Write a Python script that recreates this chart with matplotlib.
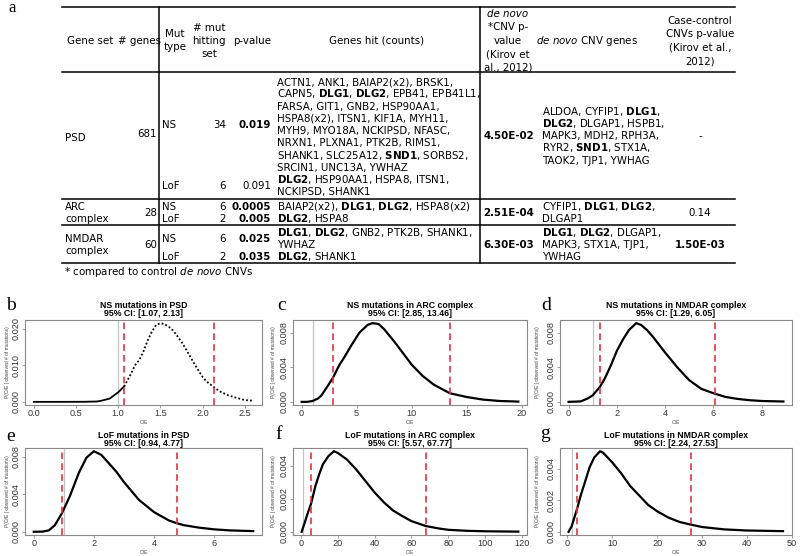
import matplotlib
matplotlib.use("Agg")
import matplotlib.pyplot as plt
from matplotlib.lines import Line2D

plt.rcParams['font.family'] = ['DejaVu Sans']
plt.rcParams['mathtext.fontset'] = 'dejavusans'

# ---------------- table data ----------------
gene_sets = [["PSD"], ["ARC", "complex"], ["NMDAR", "complex"]]
n_genes = ["681", "28", "60"]
mut_types = ["NS", "LoF"]
n_hit = [["34", "6"], ["6", "2"], ["6", "2"]]
p_values = [["0.019", "0.091"], ["0.0005", "0.005"], ["0.025", "0.035"]]
p_bold = [[True, False], [True, True], [True, True]]
genes_hit = [
    [["ACTN1, ANK1, BAIAP2(x2), BRSK1,",
      r"CAPN5, $\mathbf{DLG1}$, $\mathbf{DLG2}$, EPB41, EPB41L1,",
      "FARSA, GIT1, GNB2, HSP90AA1,",
      "HSPA8(x2), ITSN1, KIF1A, MYH11,",
      "MYH9, MYO18A, NCKIPSD, NFASC,",
      "NRXN1, PLXNA1, PTK2B, RIMS1,",
      r"SHANK1, SLC25A12, $\mathbf{SND1}$, SORBS2,",
      "SRCIN1, UNC13A, YWHAZ"],
     [r"$\mathbf{DLG2}$, HSP90AA1, HSPA8, ITSN1,",
      "NCKIPSD, SHANK1"]],
    [[r"BAIAP2(x2), $\mathbf{DLG1}$, $\mathbf{DLG2}$, HSPA8(x2)"],
     [r"$\mathbf{DLG2}$, HSPA8"]],
    [[r"$\mathbf{DLG1}$, $\mathbf{DLG2}$, GNB2, PTK2B, SHANK1,", "YWHAZ"],
     [r"$\mathbf{DLG2}$, SHANK1"]],
]
cnv_p = ["4.50E-02", "2.51E-04", "6.30E-03"]
cnv_genes = [
    [r"ALDOA, CYFIP1, $\mathbf{DLG1}$,",
     r"$\mathbf{DLG2}$, DLGAP1, HSPB1,",
     "MAPK3, MDH2, RPH3A,",
     r"RYR2, $\mathbf{SND1}$, STX1A,",
     "TAOK2, TJP1, YWHAG"],
    [r"CYFIP1, $\mathbf{DLG1}$, $\mathbf{DLG2}$,", "DLGAP1"],
    [r"$\mathbf{DLG1}$, $\mathbf{DLG2}$, DLGAP1,", "MAPK3, STX1A, TJP1,", "YWHAG"],
]
cc_p = ["-", "0.14", "1.50E-03"]
cc_bold = [False, False, True]

# ---------------- density data ----------------
b_x = [0.0, 0.3, 0.6, 0.75, 0.8, 0.9, 1.0, 1.07, 1.15, 1.2, 1.25, 1.3, 1.35, 1.4, 1.45,
       1.5, 1.55, 1.6, 1.65, 1.7, 1.75, 1.8, 1.85, 1.9, 1.95, 2.0, 2.05, 2.13, 2.2, 2.3,
       2.4, 2.5, 2.6]
b_y = [0, 0, 0.00002, 0.0001, 0.0003, 0.0009, 0.0026, 0.0042, 0.0076, 0.0100, 0.0114,
       0.0138, 0.0168, 0.0192, 0.0210, 0.0215, 0.0212, 0.0205, 0.0195, 0.0180, 0.0164,
       0.0145, 0.0125, 0.0105, 0.0086, 0.0068, 0.0055, 0.0041, 0.0029, 0.0018, 0.0011,
       0.0005, 0.0003]
c_x = [0, 0.5, 1.0, 1.5, 1.8, 2.4, 2.85, 3.4, 3.9, 4.5, 5.25, 6.0, 6.45, 7.0, 7.5, 8.4,
       9.0, 10.0, 11.0, 12.0, 13.46, 15.0, 16.5, 18.0, 19.7]
c_y = [0, 0, 0.0001, 0.0004, 0.00075, 0.0019, 0.0028, 0.0042, 0.0052, 0.0065, 0.0080,
       0.0089, 0.0091, 0.0090, 0.0084, 0.0070, 0.0060, 0.0043, 0.0030, 0.0020, 0.0010,
       0.00056, 0.00026, 0.0001, 0.00003]
d_x = [0, 0.5, 0.8, 1.0, 1.29, 1.5, 1.75, 2.0, 2.25, 2.5, 2.8, 3.0, 3.25, 3.5, 4.0, 4.5,
       5.0, 5.5, 6.05, 6.5, 7.0, 7.5, 8.0, 8.9]
d_y = [0, 0.00005, 0.0004, 0.00076, 0.0017, 0.0027, 0.0042, 0.0059, 0.0072, 0.0083,
       0.0091, 0.0089, 0.0083, 0.0075, 0.0057, 0.0040, 0.0025, 0.0015, 0.00095, 0.00057,
       0.00034, 0.00019, 0.0001, 0.00004]
e_x = [0, 0.3, 0.5, 0.7, 0.94, 1.2, 1.5, 1.75, 2.0, 2.25, 2.5, 2.75, 3.0, 3.5, 4.0, 4.5,
       4.77, 5.0, 5.5, 6.0, 6.5, 7.3]
e_y = [0, 0.00002, 0.00015, 0.0007, 0.0020, 0.0038, 0.0063, 0.0079, 0.0086, 0.0082,
       0.0073, 0.0064, 0.0053, 0.0034, 0.0021, 0.0012, 0.0009, 0.0007, 0.00044, 0.00026,
       0.00015, 0.00007]
f_x = [0.5, 2, 4, 5.57, 8, 10, 12, 15, 18, 20, 25, 30, 35, 40, 45, 50, 55, 60, 67.77, 75,
       80, 90, 100, 118]
f_y = [0, 0.0005, 0.0012, 0.0017, 0.0028, 0.0035, 0.0041, 0.0046, 0.0049, 0.0048, 0.0044,
       0.0038, 0.0031, 0.0024, 0.0018, 0.0013, 0.00096, 0.00065, 0.00035, 0.0002, 0.00012,
       0.00006, 0.00003, 0.00001]
g_x = [0.3, 1, 2.24, 3, 4, 5, 6, 7.3, 8, 10, 12, 14, 16, 18, 20, 22.5, 25, 27.53, 30, 35,
       40, 48]
g_y = [0, 0.00036, 0.0015, 0.0023, 0.0032, 0.0041, 0.0047, 0.0051, 0.0050, 0.0044, 0.0037,
       0.0029, 0.0023, 0.0017, 0.0013, 0.0009, 0.00062, 0.00045, 0.0003, 0.00015, 0.00008,
       0.00004]

titles = ["NS mutations in PSD", "NS mutations in ARC complex", "NS mutations in NMDAR complex",
          "LoF mutations in PSD", "LoF mutations in ARC complex", "LoF mutations in NMDAR complex"]
ci = [(1.07, 2.13), (2.85, 13.46), (1.29, 6.05), (0.94, 4.77), (5.57, 67.77), (2.24, 27.53)]
letters = ["b", "c", "d", "e", "f", "g"]
xticks = [[0.0, 0.5, 1.0, 1.5, 2.0, 2.5], [0, 5, 10, 15, 20], [0, 2, 4, 6, 8],
          [0, 2, 4, 6], [0, 20, 40, 60, 80, 100, 120], [0, 10, 20, 30, 40, 50]]
xticklabels = [["0.0", "0.5", "1.0", "1.5", "2.0", "2.5"], ["0", "5", "10", "15", "20"],
               ["0", "2", "4", "6", "8"], ["0", "2", "4", "6"],
               ["0", "20", "40", "60", "80", "100", "120"], ["0", "10", "20", "30", "40", "50"]]
yticks = [[0.0, 0.010, 0.020], [0.0, 0.004, 0.008], [0.0, 0.004, 0.008],
          [0.0, 0.004, 0.008], [0.0, 0.002, 0.004], [0.0, 0.002, 0.004]]

# ---------------- figure ----------------
W, H = 800, 556
fig = plt.figure(figsize=(8, 5.56), dpi=100)


def fx(x):
    return x / W


def fy(y):
    return 1 - y / H


TFS = 7.4
CAP = 3.8  # half cap height in px (to place baselines)


def txt(x, y, s, ha='left', bold=False, italic=False, size=TFS, **kw):
    fig.text(fx(x), fy(y + CAP * size / TFS), s, ha=ha, va='baseline', fontsize=size,
             fontweight='bold' if bold else 'normal',
             fontstyle='italic' if italic else 'normal', **kw)


def hline(y, x0=62, x1=735, lw=1.1):
    fig.add_artist(Line2D([fx(x0), fx(x1)], [fy(y), fy(y)], color='black', lw=lw,
                          transform=fig.transFigure))


def vline(x, y0=7, y1=263, lw=1.1):
    fig.add_artist(Line2D([fx(x), fx(x)], [fy(y0), fy(y1)], color='black', lw=lw,
                          transform=fig.transFigure))


# panel letter a
fig.text(fx(8), fy(12), "a", fontsize=12, family='Liberation Serif', va='baseline')

# table rules
hline(7)
hline(72)
hline(199)
hline(225)
hline(263)
vline(159)
vline(480)

# header
txt(90, 40, "Gene set", ha='center')
txt(139, 40, "# genes", ha='center')
txt(175, 33, "Mut", ha='center')
txt(175, 46.5, "type", ha='center')
txt(209, 27, "# mut", ha='center')
txt(209, 40, "hitting", ha='center')
txt(209, 53, "set", ha='center')
txt(252, 40, "p-value", ha='center')
txt(377, 40, "Genes hit (counts)", ha='center')
txt(508, 13, "de novo", ha='center', italic=True)
txt(508, 26.5, "*CNV p-", ha='center')
txt(508, 40, "value", ha='center')
txt(508, 53.5, "(Kirov et", ha='center')
txt(508, 67, "al., 2012)", ha='center')
txt(587, 40, r"$\mathit{de\ novo}$ CNV genes", ha='center')
txt(700, 20, "Case-control", ha='center')
txt(700, 33.5, "CNVs p-value", ha='center')
txt(700, 47, "(Kirov et al.,", ha='center')
txt(700, 60.5, "2012)", ha='center')

# body
LS = 12.2
row_bounds = [(72, 199), (199, 225), (225, 263)]
first_line = [81.5, 206, 231.8]
for r in range(3):
    top, bot = row_bounds[r]
    mid = (top + bot) / 2
    y = first_line[r]
    for m in range(2):
        lines = genes_hit[r][m]
        ys = [y + LS * i for i in range(len(lines))]
        ym = sum(ys) / len(ys)
        for s, yy in zip(lines, ys):
            txt(277, yy, s)
        txt(162, ym, mut_types[m])
        txt(226, ym, n_hit[r][m], ha='right')
        txt(271, ym, p_values[r][m], ha='right', bold=p_bold[r][m])
        y = ys[-1] + LS
    # gene set name
    names = gene_sets[r]
    n0 = mid - LS * (len(names) - 1) / 2
    for i, s in enumerate(names):
        txt(65, n0 + LS * i + (1.5 if len(names) == 1 else 0), s)
    txt(157, mid - (2 if r == 0 else 0), n_genes[r], ha='right')
    # cnv
    txt(509, mid, cnv_p[r], ha='center', bold=True)
    cl = cnv_genes[r]
    c0 = mid - LS * (len(cl) - 1) / 2
    for i, s in enumerate(cl):
        txt(542, c0 + LS * i, s)
    txt(700, mid, cc_p[r], ha='center', bold=cc_bold[r])

txt(64, 271, r"* compared to control $\mathit{de\ novo}$ CNVs")

# ---------------- density panels ----------------
data = [(b_x, b_y), (c_x, c_y), (d_x, d_y), (e_x, e_y), (f_x, f_y), (g_x, g_y)]
cols = [(25, 262), (293, 527), (560, 792)]
rows = [(320, 405), (448, 535)]
title_y = [(305, 314), (435, 444)]
xlab_y = [422, 552]
ylab_x = [8, 273, 538]
letter_pos = [(6, 310), (277, 310), (541, 310), (6, 441), (275, 439), (540, 438)]

for k in range(6):
    r, c = divmod(k, 3)
    l, rr = cols[c]
    t, b = rows[r]
    ax = fig.add_axes([fx(l), fy(b), (rr - l) / W, (b - t) / H])
    xs, ys = data[k]
    ax.axvline(1, color='#c4c4c4', lw=0.9, zorder=1)
    if k == 0:
        split = xs.index(1.07) + 1
        ax.plot(xs[:split], ys[:split], color='black', lw=1.3, zorder=2)
        ax.plot(xs[split - 1:], ys[split - 1:], color='black', lw=1.3,
                ls=(0, (1.0, 1.2)), zorder=2)
    else:
        ax.plot(xs, ys, color='black', lw=1.6, zorder=2, solid_joinstyle='round')
    for cv in ci[k]:
        ax.axvline(cv, color='#e2323e', lw=1.2, ls=(0, (4, 2.5)), zorder=3)
    xr = max(xs) - min(xs)
    ax.set_xlim(min(xs) - 0.04 * xr, max(xs) + 0.04 * xr)
    ym = max(ys)
    ax.set_ylim(-0.04 * ym, 1.04 * ym)
    ax.set_xticks(xticks[k])
    ax.set_xticklabels(xticklabels[k])
    ax.set_yticks(yticks[k])
    ax.set_yticklabels(["%.3f" % v for v in yticks[k]], rotation=90, va='center')
    for sp in ax.spines.values():
        sp.set_color('#8a8a8a')
        sp.set_linewidth(0.8)
    ax.tick_params(length=2, width=0.6, color='#8a8a8a', labelsize=6.6, pad=1.2,
                   labelcolor='#333333')
    for lab in ax.get_xticklabels() + ax.get_yticklabels():
        lab.set_family('Liberation Sans')
    cx = (l + rr) / 2
    fig.text(fx(cx), fy(title_y[r][0]), titles[k], ha='center', va='center', fontsize=6.3,
             fontweight='bold', family='Liberation Sans')
    fig.text(fx(cx), fy(title_y[r][1]), "95%% CI: [%.2f, %.2f]" % ci[k], ha='center',
             va='center', fontsize=6.3, fontweight='bold', family='Liberation Sans')
    fig.text(fx(cx), fy(xlab_y[r]), "O/E", ha='center', va='center', fontsize=3.5,
             family='Liberation Sans', color='#444444')
    fig.text(fx(ylab_x[c]), fy((t + b) / 2), "P(O/E | observed # of mutations)", ha='center',
             va='center', rotation=90, fontsize=3.5, family='Liberation Sans', color='#444444')
    lx, ly = letter_pos[k]
    fig.text(fx(lx), fy(ly), letters[k], fontsize=14, family='Liberation Serif', va='baseline')

fig.savefig("out.png", dpi=100)
